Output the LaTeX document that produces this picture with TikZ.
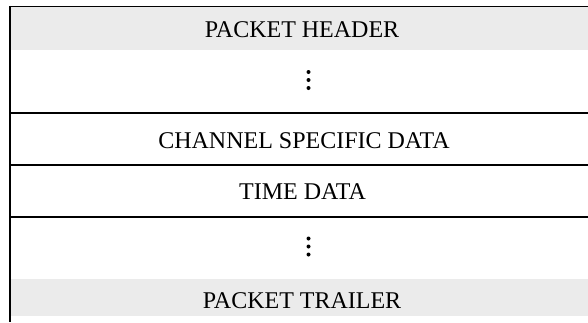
\documentclass[tikz,border=0pt]{standalone}
\usepackage{fontspec}
\setmainfont{Liberation Serif}
\definecolor{bandgray}{HTML}{EBEBEB}
\begin{document}
\begin{tikzpicture}[x=1pt,y=-1pt,
  lbl/.style={anchor=base,inner sep=0pt,font=\fontsize{24}{28}\selectfont},
  dotmark/.style={circle,fill=black,inner sep=0pt,minimum size=4pt},
  rowline/.style={line width=1.3pt},
  boldrow/.style={line width=2.3pt}]
\useasboundingbox (0,0) rectangle (588,322);
\fill[bandgray] (10,7) rectangle (588,50);
\fill[bandgray] (10,279) rectangle (588,316);
\coordinate (tl) at (10,6.5);
\coordinate (tr) at (588,6.5);
\coordinate (bl) at (10,322);
\coordinate (l1) at (10,113); \coordinate (r1) at (588,113);
\coordinate (l2) at (10,165); \coordinate (r2) at (588,165);
\coordinate (l3) at (10,217); \coordinate (r3) at (588,217);
\draw[rowline] (tl) -- (tr);
\draw[rowline] (l1) -- (r1);
\draw[boldrow] (l2) -- (r2);
\draw[rowline] (l3) -- (r3);
\draw[line width=2.3pt] (10,5.9) -- (bl);
\node[lbl] (hdr) at (302,37) {PACKET HEADER};
\node[lbl] (chn) at (304,148) {CHANNEL SPECIFIC DATA};
\node[lbl] (tim) at (302.5,199) {TIME DATA};
\node[lbl] (trl) at (302,308) {PACKET TRAILER};
\node[dotmark] (d1a) at (308.5,72) {};
\node[dotmark] (d1b) at (308.5,80) {};
\node[dotmark] (d1c) at (308.5,88) {};
\node[dotmark] (d2a) at (308.5,238.5) {};
\node[dotmark] (d2b) at (308.5,246.5) {};
\node[dotmark] (d2c) at (308.5,254.5) {};
\end{tikzpicture}
\end{document}
